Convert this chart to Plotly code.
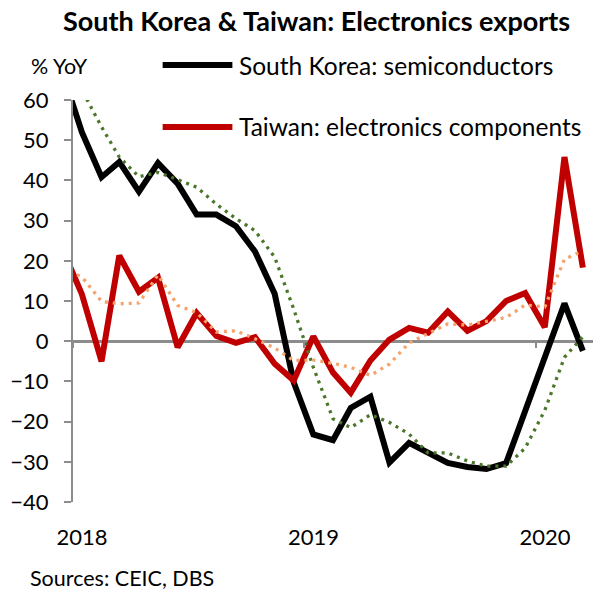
import pandas as pd
import plotly.graph_objects as go

# Monthly observations, plotted mid-month (Dec 2017 - Mar 2020)
months = pd.date_range("2017-12-01", "2020-03-01", freq="MS") + pd.Timedelta(days=14)

# % YoY
korea_semis = [67.0, 52.0, 40.8, 44.6, 37.2, 44.3, 39.2, 31.5, 31.5, 28.6, 22.3, 11.8, -10.2,
               -23.2, -24.6, -16.6, -13.8, -30.2, -25.3, -27.8, -30.3, -31.3, -31.8, -30.3, -17.6,
               -3.8, 9.4, -2.4]
taiwan_elec = [23.0, 11.7, -5.0, 21.3, 12.3, 15.8, -1.5, 7.0, 1.3, -0.4, 1.0, -5.6, -9.8,
               1.2, -7.8, -12.8, -4.8, 0.4, 3.3, 2.1, 7.4, 2.6, 5.0, 10.0, 12.0,
               3.5, 45.8, 18.3]
# 3-month trend lines
korea_trend = [68.0, 62.5, 53.3, 45.8, 40.9, 42.0, 40.2, 38.3, 34.1, 30.5, 27.5, 20.9, 8.0,
               -6.5, -19.3, -21.5, -18.3, -20.2, -23.1, -27.8, -27.8, -29.8, -31.1, -31.1, -26.6,
               -17.2, -4.0, 1.1]
taiwan_trend = [18.0, 16.0, 9.9, 9.3, 9.5, 16.5, 8.9, 7.1, 2.3, 2.6, 0.6, -1.7, -4.8,
                -4.7, -5.5, -6.5, -8.5, -5.7, -0.4, 1.9, 4.3, 4.0, 5.0, 5.9, 9.0,
                8.5, 20.4, 22.5]

year_ticks = ["2018-01-01", "2019-01-01", "2020-01-01"]
year_labels = ["2018", "2019", "2020"]
y_ticks = [60, 50, 40, 30, 20, 10, 0, -10, -20, -30, -40]

FONT = "Lato"
GRAY = "#8c8c8c"
W, H = 603, 594
L, R, T, B = 71, 10, 100, 92


def px(x):
    return (x - L) / (W - L - R)


def py(y):
    return (H - B - y) / (H - T - B)


fig = go.Figure()
fig.add_trace(go.Scatter(x=months, y=korea_semis, mode="lines", name="South Korea: semiconductors",
                         line=dict(color="#000000", width=6), showlegend=False))
fig.add_trace(go.Scatter(x=months, y=taiwan_elec, mode="lines", name="Taiwan: electronics components",
                         line=dict(color="#C00000", width=6), showlegend=False))
fig.add_trace(go.Scatter(x=months, y=korea_trend, mode="lines", xaxis="x2",
                         line=dict(color="#4A7729", width=3.3, dash="3px,5px"), showlegend=False))
fig.add_trace(go.Scatter(x=months, y=taiwan_trend, mode="lines", xaxis="x2",
                         line=dict(color="#F4A36C", width=3.3, dash="3px,5px"), showlegend=False))

fig.update_layout(
    width=W, height=H,
    margin=dict(l=L, r=R, t=T, b=B),
    paper_bgcolor="white", plot_bgcolor="white",
    font=dict(family=FONT, size=22, color="#000000"),
    xaxis=dict(
        range=["2018-01-01", "2020-03-31"], tickvals=year_ticks, ticktext=year_labels,
        showgrid=False, zeroline=False, showline=False, ticks="",
        ticklabelstandoff=20, ticklabelshift=9,
        tickfont=dict(family=FONT, size=22),
    ),
    xaxis2=dict(
        overlaying="x", matches="x", anchor="free", position=0.4,
        tickvals=year_ticks, showticklabels=False, showgrid=False, zeroline=False,
        showline=False, ticks="outside", ticklen=6, tickwidth=2, tickcolor=GRAY,
    ),
    yaxis=dict(
        range=[-40, 60], tickvals=y_ticks, showgrid=False,
        zeroline=True, zerolinecolor=GRAY, zerolinewidth=2.5,
        showline=True, linecolor=GRAY, linewidth=2,
        ticks="outside", ticklen=7, tickwidth=2, tickcolor=GRAY,
        ticklabelstandoff=11, tickfont=dict(family=FONT, size=22),
    ),
)

# Title, unit label and source note
fig.add_annotation(text="<b>South Korea & Taiwan: Electronics exports</b>", xref="paper", yref="paper",
                   x=px(315), y=py(20), showarrow=False, font=dict(family=FONT, size=27),
                   xanchor="center", yanchor="middle")
fig.add_annotation(text="% YoY", xref="paper", yref="paper", x=px(27), y=py(66), showarrow=False,
                   font=dict(family=FONT, size=21.5), xanchor="left", yanchor="middle")
fig.add_annotation(text="Sources: CEIC, DBS", xref="paper", yref="paper", x=px(26), y=py(578),
                   showarrow=False, font=dict(family=FONT, size=21.5), xanchor="left", yanchor="middle")

# Legend
legend_items = [("South Korea: semiconductors", "#000000", 65),
                ("Taiwan: electronics components", "#C00000", 127)]
for label, color, ypix in legend_items:
    fig.add_shape(type="line", xref="paper", yref="paper", x0=px(161), x1=px(231),
                  y0=py(ypix), y1=py(ypix), line=dict(color=color, width=6))
    fig.add_annotation(text=label, xref="paper", yref="paper", x=px(236), y=py(ypix),
                       showarrow=False, font=dict(family=FONT, size=24.5),
                       xanchor="left", yanchor="middle")

fig.write_html("out.html")
